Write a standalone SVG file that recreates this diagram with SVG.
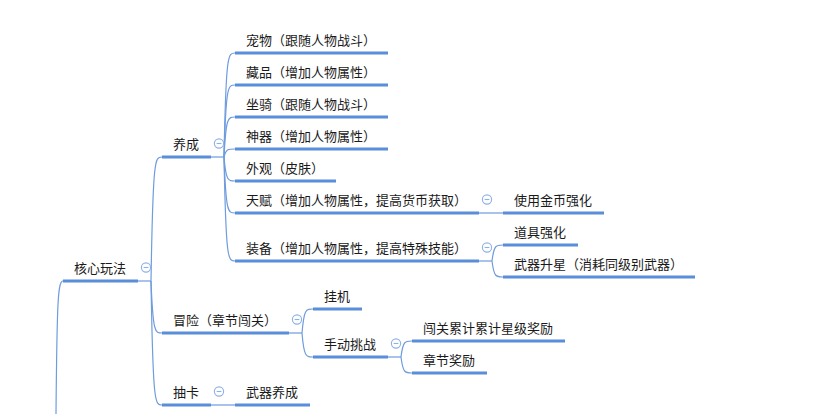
<svg xmlns="http://www.w3.org/2000/svg" width="823" height="414" viewBox="0 0 823 414">
<style>
.t{font-family:"Noto Sans CJK SC","Microsoft YaHei",sans-serif;font-size:13px;fill:#1a1a1a}
.u{stroke:#5a8ed8;stroke-width:3;fill:none}
.c{stroke:#6e9cde;stroke-width:1.2;fill:none}
.btn circle{fill:#fff;stroke:#8db1e5;stroke-width:1.1}
.btn line{stroke:#8db1e5;stroke-width:1.1}
</style>
<defs>
<g id="minus" class="btn"><circle cx="0" cy="0" r="4.6"/><line x1="-2.4" y1="0" x2="2.4" y2="0"/></g>
</defs>
<rect width="823" height="414" fill="#fff"/>
<g id="connectors">
<path class="c" d="M63,281 C58,281 57,300 56,414"/>
<path class="c" d="M138,281 H151"/>
<path class="c" d="M151,281 C153,157 155,157 162,157"/>
<path class="c" d="M151,281 C153,333 155,333 162,333"/>
<path class="c" d="M151,281 C153,405 155,405 162,405"/>
<path class="c" d="M211,157 H224"/>
<path class="c" d="M224,157 C226,53 228,53 235,53"/>
<path class="c" d="M224,157 C226,85 228,85 235,85"/>
<path class="c" d="M224,157 C226,117 228,117 235,117"/>
<path class="c" d="M224,157 C226,149 228,149 235,149"/>
<path class="c" d="M224,157 C226,181 228,181 235,181"/>
<path class="c" d="M224,157 C226,213 228,213 235,213"/>
<path class="c" d="M224,157 C226,261 228,261 235,261"/>
<path class="c" d="M479,213 H503"/>
<path class="c" d="M479,261 H492"/>
<path class="c" d="M492,261 C494,245 496,245 503,245"/>
<path class="c" d="M492,261 C494,277 496,277 503,277"/>
<path class="c" d="M289,333 H302"/>
<path class="c" d="M302,333 C304,309 306,309 313,309"/>
<path class="c" d="M302,333 C304,357 306,357 313,357"/>
<path class="c" d="M388,357 H401"/>
<path class="c" d="M401,357 C403,341 405,341 412,341"/>
<path class="c" d="M401,357 C403,373 405,373 412,373"/>
<path class="c" d="M211,405 H235"/>
</g>
<g id="n-root"><line class="u" x1="63" y1="281" x2="138" y2="281"/><text class="t" x="74" y="272.5">核心玩法</text><use href="#minus" x="146" y="267.5"/></g>
<g id="n-yangcheng"><line class="u" x1="162" y1="157" x2="211" y2="157"/><text class="t" x="173" y="148.5">养成</text><use href="#minus" x="219" y="143.5"/></g>
<g id="n-chongwu"><line class="u" x1="235" y1="53" x2="388" y2="53"/><text class="t" x="246" y="44.5">宠物（跟随人物战斗）</text></g>
<g id="n-cangpin"><line class="u" x1="235" y1="85" x2="388" y2="85"/><text class="t" x="246" y="76.5">藏品（增加人物属性）</text></g>
<g id="n-zuoqi"><line class="u" x1="235" y1="117" x2="388" y2="117"/><text class="t" x="246" y="108.5">坐骑（跟随人物战斗）</text></g>
<g id="n-shenqi"><line class="u" x1="235" y1="149" x2="388" y2="149"/><text class="t" x="246" y="140.5">神器（增加人物属性）</text></g>
<g id="n-waiguan"><line class="u" x1="235" y1="181" x2="336" y2="181"/><text class="t" x="246" y="172.5">外观（皮肤）</text></g>
<g id="n-tianfu"><line class="u" x1="235" y1="213" x2="479" y2="213"/><text class="t" x="246" y="204.5">天赋（增加人物属性，提高货币获取）</text><use href="#minus" x="487" y="199.5"/></g>
<g id="n-jinbi"><line class="u" x1="503" y1="213" x2="604" y2="213"/><text class="t" x="514" y="204.5">使用金币强化</text></g>
<g id="n-zhuangbei"><line class="u" x1="235" y1="261" x2="479" y2="261"/><text class="t" x="246" y="252.5">装备（增加人物属性，提高特殊技能）</text><use href="#minus" x="487" y="247.5"/></g>
<g id="n-daoju"><line class="u" x1="503" y1="245" x2="578" y2="245"/><text class="t" x="514" y="236.5">道具强化</text></g>
<g id="n-shengxing"><line class="u" x1="503" y1="277" x2="695" y2="277"/><text class="t" x="514" y="268.5">武器升星（消耗同级别武器）</text></g>
<g id="n-maoxian"><line class="u" x1="162" y1="333" x2="289" y2="333"/><text class="t" x="173" y="324.5">冒险（章节闯关）</text><use href="#minus" x="297" y="319.5"/></g>
<g id="n-guaji"><line class="u" x1="313" y1="309" x2="362" y2="309"/><text class="t" x="324" y="300.5">挂机</text></g>
<g id="n-shoudong"><line class="u" x1="313" y1="357" x2="388" y2="357"/><text class="t" x="324" y="348.5">手动挑战</text><use href="#minus" x="396" y="343.5"/></g>
<g id="n-leiji"><line class="u" x1="412" y1="341" x2="565" y2="341"/><text class="t" x="423" y="332.5">闯关累计累计星级奖励</text></g>
<g id="n-zhangjie"><line class="u" x1="412" y1="373" x2="487" y2="373"/><text class="t" x="423" y="364.5">章节奖励</text></g>
<g id="n-chouka"><line class="u" x1="162" y1="405" x2="211" y2="405"/><text class="t" x="173" y="396.5">抽卡</text><use href="#minus" x="219" y="391.5"/></g>
<g id="n-wuqi"><line class="u" x1="235" y1="405" x2="310" y2="405"/><text class="t" x="246" y="396.5">武器养成</text></g>
</svg>
